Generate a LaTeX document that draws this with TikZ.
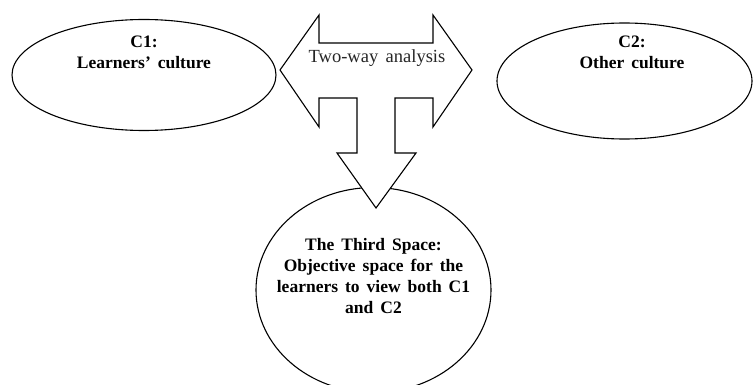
\documentclass[tikz,border=0pt]{standalone}
\usepackage{fontspec}
\setmainfont{Liberation Serif}[WordSpace=1.6]
\usetikzlibrary{shapes.geometric}
\begin{document}
\begin{tikzpicture}[x=1pt,y=-1pt,
culture/.style={draw,ellipse,line width=1.1pt,inner sep=0pt},
caption/.style={font=\fontsize{17.5}{21}\selectfont\bfseries,align=center}]
\useasboundingbox(0,0)rectangle(753,385);
\node[culture,minimum width=264pt,minimum height=111pt](c1)at(144,75){};
\node[caption](c1text)at(144,52){C1:\\Learners' culture};
\node[culture,minimum width=255pt,minimum height=116pt](c2)at(624.5,81){};
\node[caption](c2text)at(632,52){C2:\\Other culture};
\node[culture,minimum width=235pt,minimum height=205pt](third)at(373.5,290){};
\node[caption](thirdtext)at(373.5,276){The Third Space:\\Objective space for the\\learners to view both C1\\and C2};
% arrows
\draw[line width=1.1pt,fill=white](280,70)--(319,15)--(319,43)--(433,43)--(433,15)--(472,70)--(433,127)--(433,98)--(395,98)--(395,153)--(416,153)--(376,208)--(337,153)--(357,153)--(357,98)--(319,98)--(319,127)--cycle;
\node[font=\fontsize{18.5}{22}\selectfont,text=black!85](twoway)at(377,58){Two-way analysis};
\end{tikzpicture}
\end{document}
